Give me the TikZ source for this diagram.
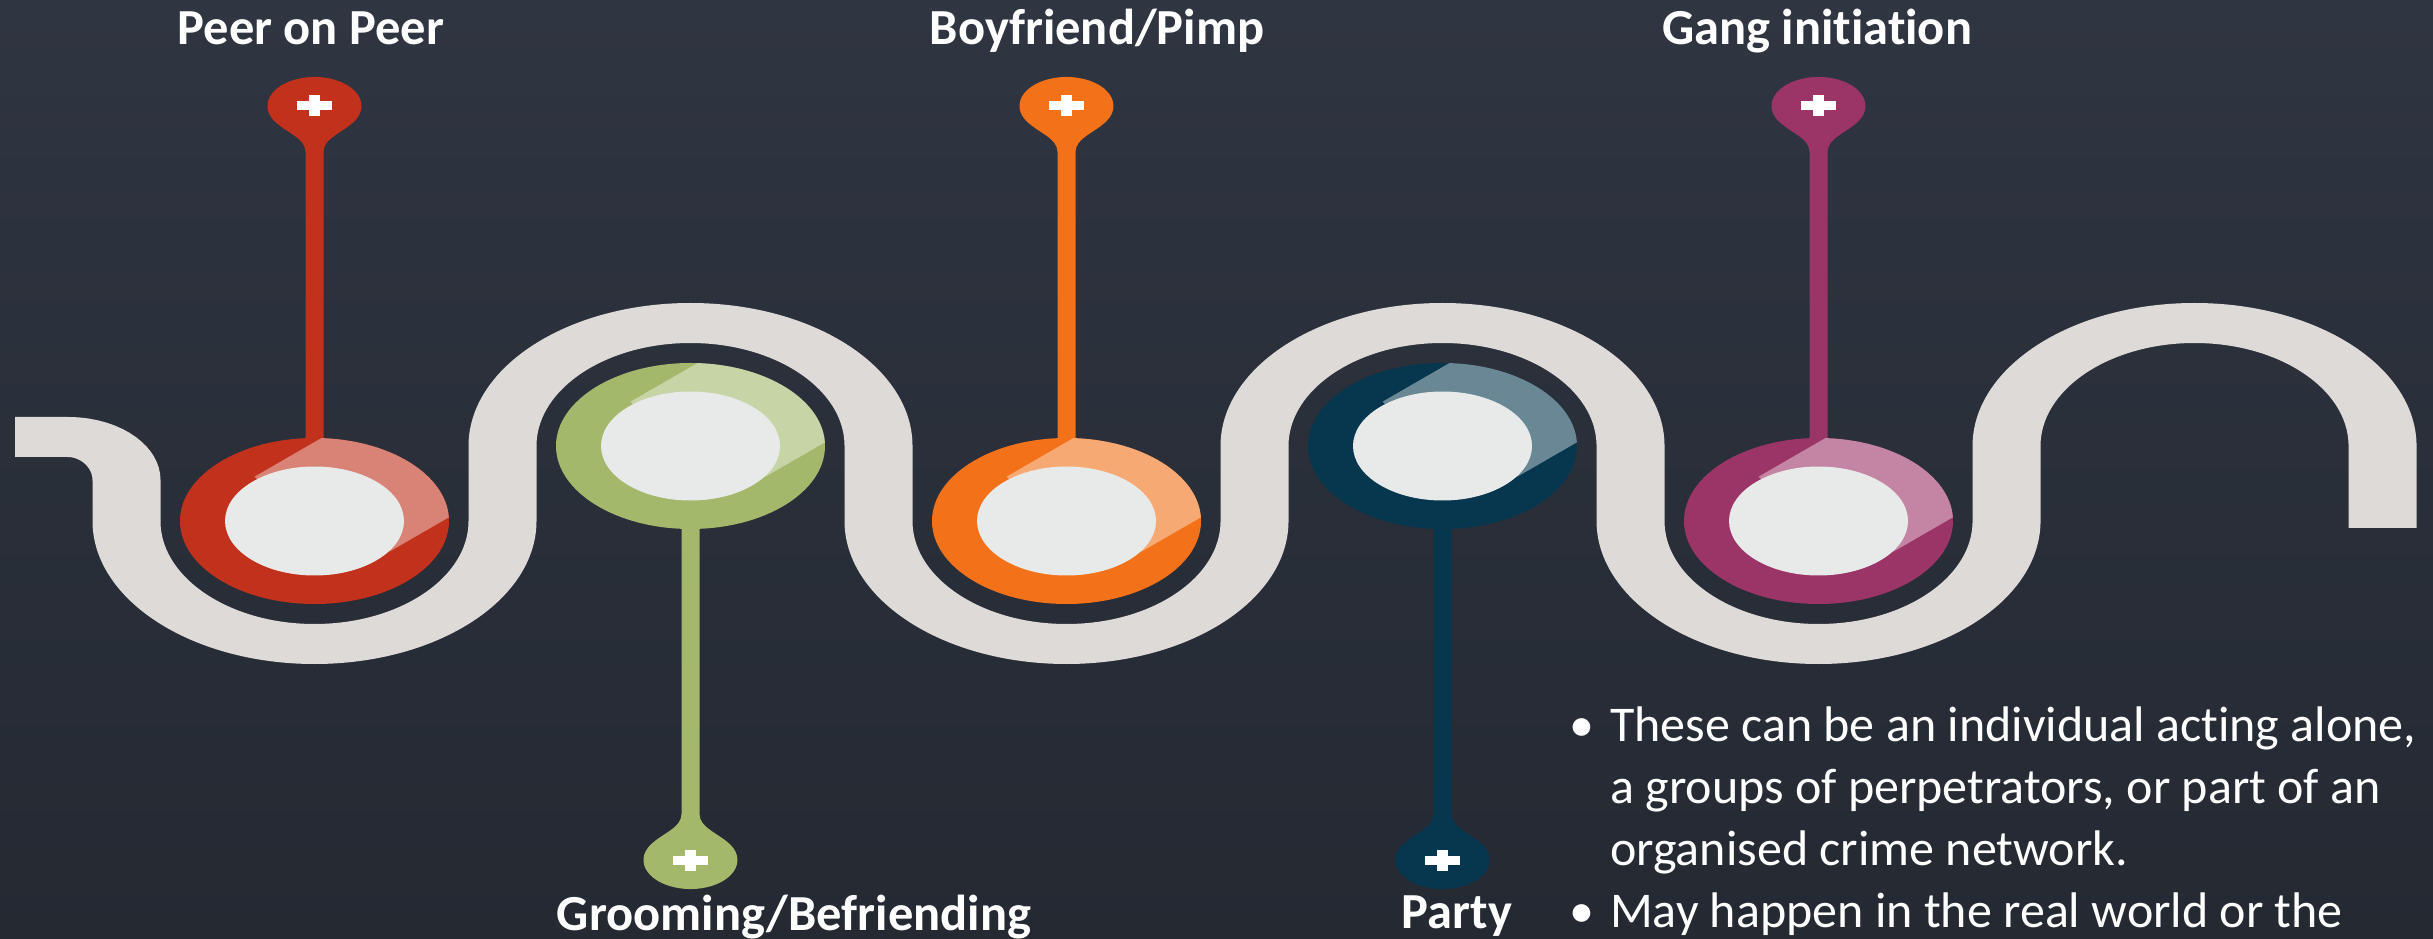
\documentclass[tikz,border=0pt]{standalone}
\usepackage{fontspec}
\setmainfont{Carlito}[Ligatures=NoCommon, Contextuals=NoAlternate]
\definecolor{bgtop}{HTML}{2F3541}
\definecolor{bgbot}{HTML}{242932}
\definecolor{road}{HTML}{DEDAD8}
\definecolor{cred}{HTML}{C1311B}
\definecolor{cgreen}{HTML}{A3B86A}
\definecolor{corange}{HTML}{F37118}
\definecolor{cnavy}{HTML}{06374F}
\definecolor{cpurple}{HTML}{9B3467}
\definecolor{cwhite}{HTML}{E8EAE9}
\tikzset{
  lbl/.style={font=\bfseries\fontsize{50.5}{60}\selectfont, text=white, inner sep=0pt, anchor=base},
  body/.style={font=\fontsize{50}{62}\selectfont, text=white, inner sep=0pt, anchor=base west},
  bul/.style={font=\fontsize{50}{62}\selectfont, text=white, inner sep=0pt, anchor=base},
}
\newcommand\myring[3]{%
  \fill[#3] (#1,#2) ellipse[x radius=134.5, y radius=83];
  \begin{scope}
    \clip (#1,#2) ellipse[x radius=134.5, y radius=83];
    \fill[white, opacity=0.4, shift={(#1,#2)}] (93.6,133) -- (-60,44.3) -- (-30,15) -- (50,-25) -- (75,-30.6) -- (221.6,54) -- cycle;
  \end{scope}
  \fill[cwhite] (#1,#2) ellipse[x radius=89.5, y radius=54.5];
}
\newcommand\mypinup[2]{%
  \fill[#2] ({#1-9},480) -- ({#1-9},786) .. controls ({#1-9},800) and ({#1-28},805) .. ({#1-40.3},817.1)
    arc[start angle=211, end angle=-31, x radius=47, y radius=29]
    .. controls ({#1+28},805) and ({#1+9},800) .. ({#1+9},786) -- ({#1+9},480) -- cycle;
  \fill[white] ({#1-17.5},827.5) rectangle ({#1+17.5},836.5);
  \fill[white] ({#1-5.5},821.5) rectangle ({#1+5.5},842.5);
}
\newcommand\mypindown[2]{%
  \fill[#2] ({#1-9},430) -- ({#1-9},124) .. controls ({#1-9},110) and ({#1-28},105) .. ({#1-40.3},92.9)
    arc[start angle=149, end angle=391, x radius=47, y radius=29]
    .. controls ({#1+28},105) and ({#1+9},110) .. ({#1+9},124) -- ({#1+9},430) -- cycle;
  \fill[white] ({#1-17.5},73.5) rectangle ({#1+17.5},82.5);
  \fill[white] ({#1-5.5},67.5) rectangle ({#1+5.5},88.5);
}
\begin{document}
\begin{tikzpicture}[x=1pt, y=1pt]
\useasboundingbox (0,0) rectangle (2433,938);
\shade[top color=bgtop, bottom color=bgbot] (0,0) rectangle (2433,938);
% road
\begin{scope}[transform canvas={xscale=1.7}, x=0.5882353pt]
\draw[road, line width=40pt] (15,501) -- (68,501)
  arc[start angle=90, end angle=0, x radius=58.5, y radius=43] -- (126.5,417)
  arc[start angle=180, end angle=360, x radius=188, y radius=123] -- (502.5,492)
  arc[start angle=180, end angle=0, x radius=188, y radius=123] -- (878.5,417)
  arc[start angle=180, end angle=360, x radius=188, y radius=123] -- (1254.5,492)
  arc[start angle=180, end angle=0, x radius=188, y radius=123] -- (1630.5,417)
  arc[start angle=180, end angle=360, x radius=188, y radius=123] -- (2006.5,492)
  arc[start angle=180, end angle=0, x radius=188, y radius=123] -- (2382.5,410);
\end{scope}
% pins
\mypinup{314.5}{cred}
\mypindown{690.5}{cgreen}
\mypinup{1066.5}{corange}
\mypindown{1442.5}{cnavy}
\mypinup{1818.5}{cpurple}
% rings
\myring{314.5}{417}{cred}
\myring{690.5}{492}{cgreen}
\myring{1066.5}{417}{corange}
\myring{1442.5}{492}{cnavy}
\myring{1818.5}{417}{cpurple}
% labels
\node[lbl] (peer) at (311,893) {Peer on Peer};
\node[lbl] (boy) at (1097,893) {Boyfriend/Pimp};
\node[lbl] (gang) at (1817,893) {Gang initiation};
\node[lbl] (groom) at (794,8) {Grooming/Befriending};
\node[lbl] (party) at (1457,10) {Party};
% body text
\node[bul] (b1) at (1582,197) {\textbullet};
\node[body] (t1) at (1610,197) {These can be an individual acting alone,};
\node[body] (t2) at (1610,135) {a groups of perpetrators, or part of an};
\node[body] (t3) at (1610,73) {organised crime network.};
\node[bul] (b2) at (1582,11) {\textbullet};
\node[body] (t4) at (1610,11) {May happen in the real world or the};
\end{tikzpicture}
\end{document}
